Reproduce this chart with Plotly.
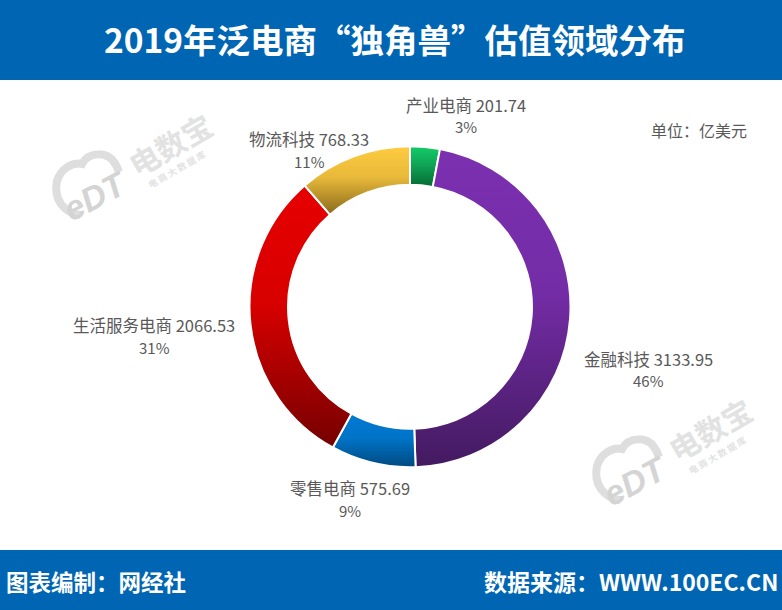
import plotly.graph_objects as go

W, H = 782, 610

categories = ['产业电商', '金融科技', '零售电商', '生活服务电商', '物流科技']
values = [201.74, 3133.95, 575.69, 2066.53, 768.33]
value_labels = ['201.74', '3133.95', '575.69', '2066.53', '768.33']
percent_labels = ['3%', '46%', '9%', '31%', '11%']
top_colors = ['#12CC68', '#7B30B0', '#0079D2', '#E60000', '#FFCC40']
mid_colors = ['#0FA556', '#742CA6', '#0074C8', '#D80000', '#E8B93A']
bottom_colors = ['#046A34', '#431A60', '#004A80', '#750000', '#8A6A1C']

# label centres in page pixels: x, first line y, second line y
label_pos = [(466, 105, 127), (648, 359, 380), (350, 488, 510), (154, 325, 347), (309, 139, 161)]

FONT = 'Noto Sans CJK SC'
BLUE = '#0066B3'


def px(x, y):
    return x / W, 1 - y / H


def text(x, y, s, size, color='#595959', bold=False, anchor='center', angle=0, family=FONT):
    ax, ay = px(x, y)
    if bold:
        s = f'<b>{s}</b>'
    return dict(x=ax, y=ay, xref='paper', yref='paper', text=s, showarrow=False,
                xanchor=anchor, yanchor='middle', textangle=angle,
                font=dict(family=family, size=size, color=color))


def band(y0, y1):
    ax0, ay0 = px(0, y0)
    ax1, ay1 = px(W, y1)
    return dict(type='rect', xref='paper', yref='paper', x0=ax0, x1=ax1, y0=ay0, y1=ay1,
                fillcolor=BLUE, line_width=0, layer='below')


def watermark(dx, dy):
    # cloud outline, drawn in page pixels and shifted per copy
    pts = [(620, 500), (604, 498), (593, 484), (597, 466), (601, 453), (613, 447), (622, 449),
           (629, 436), (647, 437), (654, 447), (657, 451), (658, 454), (659, 457)]
    d = 'M {} {} '.format(*px(pts[0][0] + dx, pts[0][1] + dy))
    for i in range(1, len(pts), 3):
        seg = pts[i:i + 3]
        d += 'C ' + ' '.join('{} {}'.format(*px(a + dx, b + dy)) for a, b in seg) + ' '
    cloud = dict(type='path', xref='paper', yref='paper', path=d, layer='below',
                 line=dict(color='#DEDEDE', width=8))
    notes = [
        text(635 + dx, 481 + dy, '<i>eDT</i>', 34, '#D4D4D4', bold=True, angle=-28, family='Liberation Sans'),
        text(710 + dx, 429 + dy, '电数宝', 30, '#E2E2E2', bold=True, angle=-30),
        text(717 + dx, 455 + dy, '电 商 大 数 据 库', 9, '#E2E2E2', bold=True, angle=-30),
    ]
    return cloud, notes


fig = go.Figure(go.Pie(
    labels=categories,
    values=values,
    hole=0.76,
    sort=False,
    direction='clockwise',
    rotation=0,
    textinfo='none',
    showlegend=False,
    marker=dict(colors=mid_colors, line=dict(color='white', width=2)),
    domain=dict(x=[249.5 / W, 570.5 / W], y=[(H - 467.5) / H, (H - 146) / H]),
))

shapes = [band(0, 80), band(550, H)]
annotations = []

for dx, dy in [(0, 0), (-540, -285)]:
    cloud, notes = watermark(dx, dy)
    shapes.append(cloud)
    annotations += notes

for cat, val, pct, (x, y1, y2) in zip(categories, value_labels, percent_labels, label_pos):
    annotations.append(text(x, y1, f'{cat} {val}', 16.5))
    annotations.append(text(x, y2, pct, 15))

annotations += [
    text(395, 39, '2019年泛电商“独角兽”估值领域分布', 33.5, 'white', bold=True),
    text(699, 130, '单位：亿美元', 16),
    text(4, 581, '图表编制：网经社', 22.5, 'white', bold=True, anchor='left'),
    text(780, 581, '数据来源：WWW.100EC.CN', 23, 'white', bold=True, anchor='right'),
]

fig.update_layout(
    width=W,
    height=H,
    margin=dict(l=0, r=0, t=0, b=0),
    paper_bgcolor='white',
    plot_bgcolor='white',
    shapes=shapes,
    annotations=annotations,
)

# pie slices have no gradient fill in plotly, so add it to the svg after drawing
stops = [[a, b, c] for a, b, c in zip(top_colors, mid_colors, bottom_colors)]
gradient_js = """
document.body.style.margin = '0';
var stops = %s;
var svg = document.querySelector('.main-svg');
var defs = document.createElementNS('http://www.w3.org/2000/svg', 'defs');
stops.forEach(function (s, i) {
  var g = document.createElementNS('http://www.w3.org/2000/svg', 'linearGradient');
  g.setAttribute('id', 'slicegrad' + i);
  g.setAttribute('x1', '0'); g.setAttribute('y1', '0');
  g.setAttribute('x2', '0'); g.setAttribute('y2', '1');
  [[0, s[0]], [0.45, s[1]], [1, s[2]]].forEach(function (p) {
    var st = document.createElementNS('http://www.w3.org/2000/svg', 'stop');
    st.setAttribute('offset', p[0]);
    st.setAttribute('stop-color', p[1]);
    g.appendChild(st);
  });
  defs.appendChild(g);
});
svg.insertBefore(defs, svg.firstChild);
document.querySelectorAll('.slice path.surface').forEach(function (p, i) {
  p.style.fill = 'url(#slicegrad' + i + ')';
});
""" % stops

fig.write_html("out.html", post_script=gradient_js, config={'displayModeBar': False})
